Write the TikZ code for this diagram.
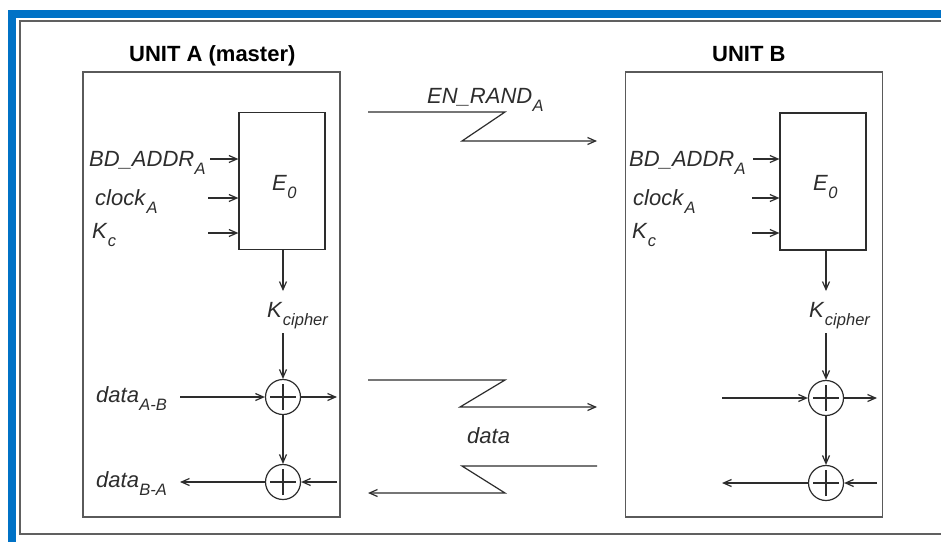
\documentclass[tikz,border=0pt]{standalone}
\usepackage{fontspec}
\setmainfont{Liberation Sans}
\usetikzlibrary{arrows.meta}
\definecolor{frameblue}{RGB}{0,114,198}
\definecolor{ink}{RGB}{45,45,45}
\definecolor{edge}{RGB}{90,90,90}
\newcommand\lbl[2]{\textit{#1}\kern0.3pt\raisebox{-8pt}{\fontsize{16.5}{16.5}\selectfont\textit{#2}}}
\begin{document}
\begin{tikzpicture}[x=1pt,y=-1pt,
  lab/.style={font=\fontsize{22}{22}\selectfont, inner sep=0, anchor=base west, text=ink},
  ttl/.style={font=\fontsize{22}{22}\selectfont\bfseries, inner sep=0, anchor=base west, text=black},
  unitbox/.style={draw=edge, line width=1.3pt, minimum width=257pt, minimum height=445pt, inner sep=0},
  ebox/.style={draw=ink, line width=1.2pt, minimum width=86pt, minimum height=137pt, inner sep=0},
  wire/.style={draw=ink, line width=1.2pt},
  arr/.style={wire, -{Straight Barb[length=8pt,width=7pt]}},
  xor/.style={circle, draw=ink, line width=1.2pt, minimum size=35pt, inner sep=0}]
\fill[white] (0,0) rectangle (941,542);
\useasboundingbox (0,0) rectangle (941,542);
% frame
\fill[frameblue] (8,10) rectangle (941,18);
\fill[frameblue] (8,10) rectangle (16,542);
\draw[gray!75!black, line width=2pt] (941,21) -- (20,21) -- (20,534) -- (941,534);
% titles
\node[ttl] (tA) at (129,61) {UNIT A (master)};
\node[ttl] (tB) at (712,61) {UNIT B};
% unit boxes
\node[unitbox] (unitA) at (211.5,294.5) {};
\node[unitbox] (unitB) at (754,294.5) {};
% ===== Unit A =====
\node[ebox] (E0A) at (282,181) {};
\node[lab] (e0A) at (272,190) {\lbl{E}{0}};
\node[lab] (bdA) at (89,166) {\lbl{BD\_ADDR}{A}};
\node[lab] (clA) at (95,205) {\lbl{clock}{A}};
\node[lab] (kcA) at (92,238) {\lbl{K}{c}};
\coordinate (ia1) at (210,159);
\coordinate (ia2) at (208,198);
\coordinate (ia3) at (208,233);
\draw[arr] (ia1) -- (ia1 -| E0A.west);
\draw[arr] (ia2) -- (ia2 -| E0A.west);
\draw[arr] (ia3) -- (ia3 -| E0A.west);
\node[xor] (xa1) at (283,397) {};
\node[xor] (xa2) at (283,482) {};
\foreach \n in {xa1,xa2}{
  \draw[wire] ([yshift=-13pt]\n.center) -- ([yshift=13pt]\n.center);
  \draw[wire] ([xshift=-13pt]\n.center) -- ([xshift=13pt]\n.center);}
\node[lab] (kciA) at (267,317) {\lbl{K}{cipher}};
\coordinate (ka1) at (283,291);
\coordinate (ka2) at (283,333);
\draw[arr] (E0A.south -| ka1) -- (ka1);
\draw[arr] (ka2) -- (xa1.north);
\draw[arr] (xa1.south) -- (xa2.north);
\node[lab] (dabA) at (96,402) {\lbl{data}{A-B}};
\node[lab] (dbaA) at (96,487) {\lbl{data}{B-A}};
\coordinate (da1) at (180,397);
\coordinate (da2) at (337,397);
\coordinate (da3) at (337,482);
\coordinate (da4) at (180,482);
\draw[arr] (da1) -- (xa1.west);
\draw[arr] (xa1.east) -- (da2);
\draw[arr] (da3) -- (xa2.east);
\draw[arr] (xa2.west) -- (da4);
% ===== Unit B =====
\node[ebox] (E0B) at (823,181.5) {};
\node[lab] (e0B) at (813,190) {\lbl{E}{0}};
\node[lab] (bdB) at (629,166) {\lbl{BD\_ADDR}{A}};
\node[lab] (clB) at (633,205) {\lbl{clock}{A}};
\node[lab] (kcB) at (632,238) {\lbl{K}{c}};
\coordinate (ib1) at (753,159);
\coordinate (ib2) at (752,198);
\coordinate (ib3) at (752,233);
\draw[arr] (ib1) -- (ib1 -| E0B.west);
\draw[arr] (ib2) -- (ib2 -| E0B.west);
\draw[arr] (ib3) -- (ib3 -| E0B.west);
\node[xor] (xb1) at (826,398) {};
\node[xor] (xb2) at (826,483) {};
\foreach \n in {xb1,xb2}{
  \draw[wire] ([yshift=-13pt]\n.center) -- ([yshift=13pt]\n.center);
  \draw[wire] ([xshift=-13pt]\n.center) -- ([xshift=13pt]\n.center);}
\node[lab] (kciB) at (809,317) {\lbl{K}{cipher}};
\coordinate (kb1) at (826,291);
\coordinate (kb2) at (826,333);
\draw[arr] (E0B.south -| kb1) -- (kb1);
\draw[arr] (kb2) -- (xb1.north);
\draw[arr] (xb1.south) -- (xb2.north);
\coordinate (db1) at (722,398);
\coordinate (db2) at (877,398);
\coordinate (db3) at (877,483);
\coordinate (db4) at (722,483);
\draw[arr] (db1) -- (xb1.west);
\draw[arr] (xb1.east) -- (db2);
\draw[arr] (db3) -- (xb2.east);
\draw[arr] (xb2.west) -- (db4);
% ===== channels =====
\node[lab] (enr) at (427,103) {\lbl{EN\_RAND}{A}};
\coordinate (en1) at (368,112);
\coordinate (en2) at (505,112);
\coordinate (en3) at (462,141);
\coordinate (en4) at (597,141);
\draw[arr] (en1) -- (en2) -- (en3) -- (en4);
\node[lab] (dmid) at (467,443) {\textit{data}};
\coordinate (cu1) at (368,380);
\coordinate (cu2) at (505,380);
\coordinate (cu3) at (460,407);
\coordinate (cu4) at (597,407);
\draw[arr] (cu1) -- (cu2) -- (cu3) -- (cu4);
\coordinate (cl1) at (597,466);
\coordinate (cl2) at (462,466);
\coordinate (cl3) at (505,493);
\coordinate (cl4) at (368,493);
\draw[arr] (cl1) -- (cl2) -- (cl3) -- (cl4);
\end{tikzpicture}
\end{document}
